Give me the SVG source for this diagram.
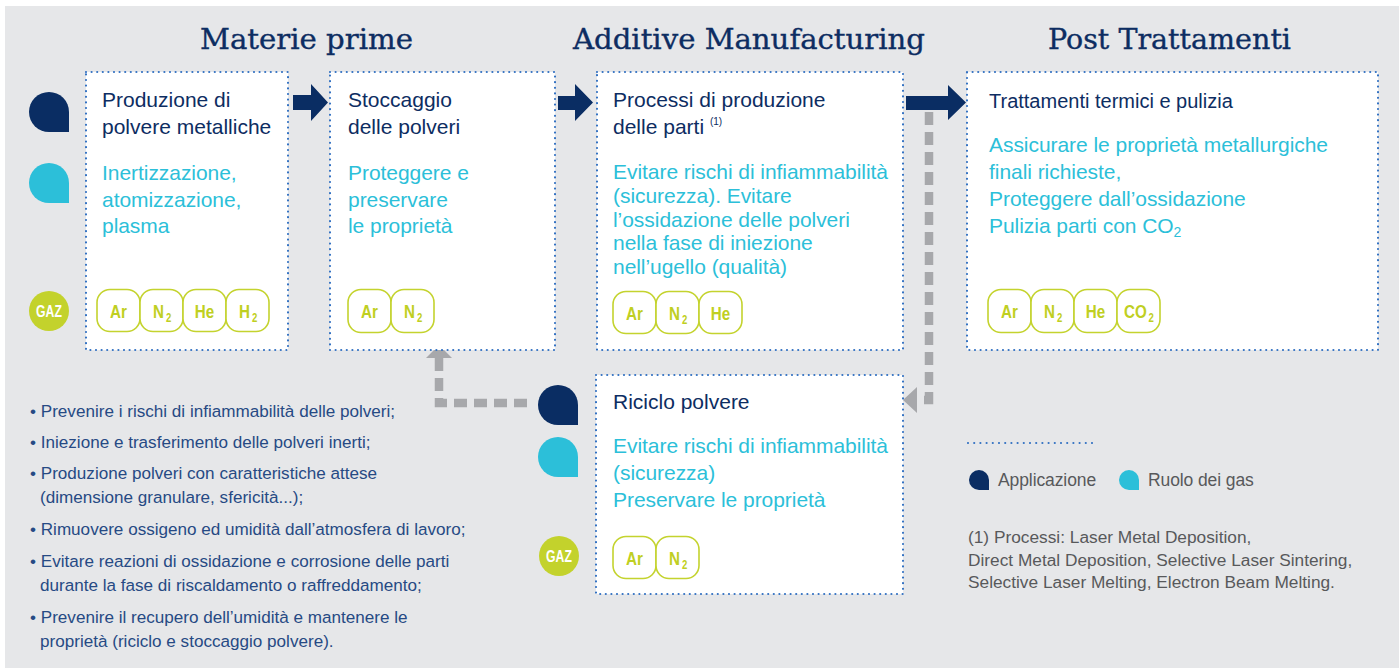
<svg xmlns="http://www.w3.org/2000/svg" xmlns:xlink="http://www.w3.org/1999/xlink" width="1399" height="668" viewBox="0 0 1399 668">
<defs>
<style>
.box{fill:#ffffff;stroke:#3271c2;stroke-width:2.2;stroke-dasharray:0 5.6;stroke-linecap:round}
.title{font-family:"DejaVu Serif",serif;font-size:27px;fill:#0d2d62;stroke:#0d2d62;stroke-width:0.35}
.head{font-family:"Liberation Sans",Arial,sans-serif;font-size:21px;fill:#0d2d62}
.cyan{font-family:"Liberation Sans",Arial,sans-serif;font-size:21px;fill:#2cbfd9;letter-spacing:-0.05px}
.pill{fill:#ffffff;stroke:#c4d32e;stroke-width:1.6}
.gas{font-family:"Liberation Sans",Arial,sans-serif;font-weight:bold;font-size:19px;fill:#bfcf22}
.mid{text-anchor:middle}
.sub{font-family:"Liberation Sans",Arial,sans-serif;font-weight:bold;font-size:12px;fill:#bfcf22}
.gaz{font-family:"Liberation Sans",Arial,sans-serif;font-weight:bold;font-size:17px;fill:#ffffff;text-anchor:middle}
.bul{font-family:"Liberation Sans",Arial,sans-serif;font-size:17.1px;fill:#264a84}
.leg{font-family:"Liberation Sans",Arial,sans-serif;font-size:17.5px;fill:#58595b;letter-spacing:-0.1px}
.note{font-family:"Liberation Sans",Arial,sans-serif;font-size:17.3px;fill:#58595b}
.navy{fill:#0a2d63}
.grayline{fill:none;stroke:#a7a8ab;stroke-width:8.5;stroke-dasharray:13 7}
.grayhead{fill:#a7a8ab}
</style>
<path id="drop" d="M20,0 A20,20 0 0 0 0,20 A20,20 0 0 0 20,40 L40,40 L40,20 A20,20 0 0 0 20,0 Z"/>
<path id="dropS" d="M10,0 A10,10 0 0 0 0,10 A10,10 0 0 0 10,20 L20,20 L20,10 A10,10 0 0 0 10,0 Z"/>
</defs>
<rect x="0" y="0" width="1399" height="668" fill="#ffffff"/>
<rect x="5" y="6" width="1394" height="662" fill="#e6e7e9"/>

<g id="titles">
<text class="title" x="200" y="49" textLength="213" lengthAdjust="spacingAndGlyphs">Materie prime</text>
<text class="title" x="573" y="49" textLength="352" lengthAdjust="spacingAndGlyphs">Additive Manufacturing</text>
<text class="title" x="1048" y="49" textLength="243" lengthAdjust="spacingAndGlyphs">Post Trattamenti</text>
</g>

<g id="connectors">
<path class="grayline" d="M929,112 V400 H918"/>
<polygon class="grayhead" points="903,400 917,387 917,413"/>
<path class="grayline" d="M527,403 H439 V358"/>
<polygon class="grayhead" points="439,345 426,358 452,358"/>
<polygon class="navy" points="293,95 311,95 311,84 328,102.5 311,121 311,110 293,110"/>
<polygon class="navy" points="558,96 575,96 575,84 593,102.5 575,121 575,110 558,110"/>
<polygon class="navy" points="906,96 948,96 948,85 966,102.5 948,120 948,110 906,110"/>
</g>

<g id="icons-left">
<use xlink:href="#drop" x="29" y="92" fill="#0a2d63"/>
<use xlink:href="#drop" x="29" y="163" fill="#2cbfd9"/>
<circle cx="49" cy="311" r="20" fill="#c3d22c"/>
<text class="gaz" transform="translate(49,317) scale(0.72,1)">GAZ</text>
</g>

<g id="node-produzione">
<rect class="box" x="86" y="72" width="202" height="278"/>
<text class="head" x="102" y="107">Produzione di</text>
<text class="head" x="102" y="134">polvere metalliche</text>
<text class="cyan" x="102" y="180">Inertizzazione,</text>
<text class="cyan" x="102" y="207">atomizzazione,</text>
<text class="cyan" x="102" y="233">plasma</text>
<rect class="pill" x="97" y="289.5" width="43" height="42" rx="13"/>
<rect class="pill" x="140" y="289.5" width="43" height="42" rx="13"/>
<rect class="pill" x="183" y="289.5" width="43" height="42" rx="13"/>
<rect class="pill" x="226" y="289.5" width="43" height="42" rx="13"/>
<text class="gas mid" transform="translate(118.5,318) scale(0.8,1)">Ar</text>
<text class="gas" transform="translate(153,318) scale(0.8,1)">N</text>
<text class="sub" transform="translate(166,322) scale(0.8,1)">2</text>
<text class="gas mid" transform="translate(204.5,318) scale(0.8,1)">He</text>
<text class="gas" transform="translate(239,318) scale(0.8,1)">H</text>
<text class="sub" transform="translate(252,322) scale(0.8,1)">2</text>
</g>

<g id="node-stoccaggio">
<rect class="box" x="330" y="72" width="225" height="278"/>
<text class="head" x="348" y="107">Stoccaggio</text>
<text class="head" x="348" y="134">delle polveri</text>
<text class="cyan" x="348" y="180">Proteggere e</text>
<text class="cyan" x="348" y="207">preservare</text>
<text class="cyan" x="348" y="233">le proprietà</text>
<rect class="pill" x="348" y="289.5" width="43" height="43" rx="13"/>
<rect class="pill" x="391" y="289.5" width="43" height="43" rx="13"/>
<text class="gas mid" transform="translate(369.5,318) scale(0.8,1)">Ar</text>
<text class="gas" transform="translate(404,318) scale(0.8,1)">N</text>
<text class="sub" transform="translate(417,322) scale(0.8,1)">2</text>
</g>

<g id="node-processi">
<rect class="box" x="597" y="72" width="306" height="278"/>
<text class="head" x="613" y="107">Processi di produzione</text>
<text class="head" x="613" y="134">delle parti <tspan font-size="10" dy="-9">(1)</tspan></text>
<text class="cyan" x="613" y="179">Evitare rischi di infiammabilità</text>
<text class="cyan" x="613" y="203">(sicurezza). Evitare</text>
<text class="cyan" x="613" y="227">l’ossidazione delle polveri</text>
<text class="cyan" x="613" y="250">nella fase di iniezione</text>
<text class="cyan" x="613" y="274">nell’ugello (qualità)</text>
<rect class="pill" x="613" y="291.5" width="43" height="42" rx="13"/>
<rect class="pill" x="656" y="291.5" width="43" height="42" rx="13"/>
<rect class="pill" x="699" y="291.5" width="43" height="42" rx="13"/>
<text class="gas mid" transform="translate(634.5,320) scale(0.8,1)">Ar</text>
<text class="gas" transform="translate(669,320) scale(0.8,1)">N</text>
<text class="sub" transform="translate(682,324) scale(0.8,1)">2</text>
<text class="gas mid" transform="translate(720.5,320) scale(0.8,1)">He</text>
</g>

<g id="node-trattamenti">
<rect class="box" x="967" y="72" width="411" height="278"/>
<text class="head" x="989" y="108" style="font-size:20px">Trattamenti termici e pulizia</text>
<text class="cyan" x="989" y="152">Assicurare le proprietà metallurgiche</text>
<text class="cyan" x="989" y="179">finali richieste,</text>
<text class="cyan" x="989" y="206">Proteggere dall’ossidazione</text>
<text class="cyan" x="989" y="233">Pulizia parti con CO<tspan font-size="14" dy="4">2</tspan></text>
<rect class="pill" x="988" y="289.5" width="43" height="43" rx="13"/>
<rect class="pill" x="1031" y="289.5" width="43" height="43" rx="13"/>
<rect class="pill" x="1074" y="289.5" width="43" height="43" rx="13"/>
<rect class="pill" x="1117" y="289.5" width="43" height="43" rx="13"/>
<text class="gas mid" transform="translate(1009.5,318) scale(0.8,1)">Ar</text>
<text class="gas" transform="translate(1044,318) scale(0.8,1)">N</text>
<text class="sub" transform="translate(1057,322) scale(0.8,1)">2</text>
<text class="gas mid" transform="translate(1095.5,318) scale(0.8,1)">He</text>
<text class="gas" transform="translate(1124,318) scale(0.8,1)">CO</text>
<text class="sub" transform="translate(1148.5,322) scale(0.8,1)">2</text>
</g>

<g id="node-riciclo">
<use xlink:href="#drop" x="538" y="385" fill="#0a2d63"/>
<use xlink:href="#drop" x="538" y="437" fill="#2cbfd9"/>
<circle cx="559" cy="556" r="20" fill="#c3d22c"/>
<text class="gaz" transform="translate(559,562) scale(0.72,1)">GAZ</text>
<rect class="box" x="596" y="375" width="307" height="219"/>
<text class="head" x="613" y="409">Riciclo polvere</text>
<text class="cyan" x="613" y="453">Evitare rischi di infiammabilità</text>
<text class="cyan" x="613" y="480">(sicurezza)</text>
<text class="cyan" x="613" y="507">Preservare le proprietà</text>
<rect class="pill" x="613" y="536.5" width="43" height="42" rx="13"/>
<rect class="pill" x="656" y="536.5" width="43" height="42" rx="13"/>
<text class="gas mid" transform="translate(634.5,565) scale(0.8,1)">Ar</text>
<text class="gas" transform="translate(669,565) scale(0.8,1)">N</text>
<text class="sub" transform="translate(682,569) scale(0.8,1)">2</text>
</g>

<g id="bullets">
<text class="bul" x="30" y="417">• Prevenire i rischi di infiammabilità delle polveri;</text>
<text class="bul" x="30" y="448">• Iniezione e trasferimento delle polveri inerti;</text>
<text class="bul" x="30" y="479">• Produzione polveri con caratteristiche attese</text>
<text class="bul" x="40" y="503">(dimensione granulare, sfericità...);</text>
<text class="bul" x="30" y="535">• Rimuovere ossigeno ed umidità dall’atmosfera di lavoro;</text>
<text class="bul" x="30" y="567">• Evitare reazioni di ossidazione e corrosione delle parti</text>
<text class="bul" x="40" y="591">durante la fase di riscaldamento o raffreddamento;</text>
<text class="bul" x="30" y="623">• Prevenire il recupero dell’umidità e mantenere le</text>
<text class="bul" x="40" y="647">proprietà (riciclo e stoccaggio polvere).</text>
</g>

<g id="legend">
<line x1="968" y1="443" x2="1093" y2="443" stroke="#3271c2" stroke-width="2.2" stroke-dasharray="0 6.2" stroke-linecap="round"/>
<use xlink:href="#dropS" x="969" y="470" fill="#0a2d63"/>
<text class="leg" x="998" y="486">Applicazione</text>
<use xlink:href="#dropS" x="1119" y="470" fill="#2cbfd9"/>
<text class="leg" x="1148" y="486">Ruolo dei gas</text>
<text class="note" x="968" y="543">(1) Processi: Laser Metal Deposition,</text>
<text class="note" x="968" y="566">Direct Metal Deposition, Selective Laser Sintering,</text>
<text class="note" x="968" y="588">Selective Laser Melting, Electron Beam Melting.</text>
</g>
</svg>
